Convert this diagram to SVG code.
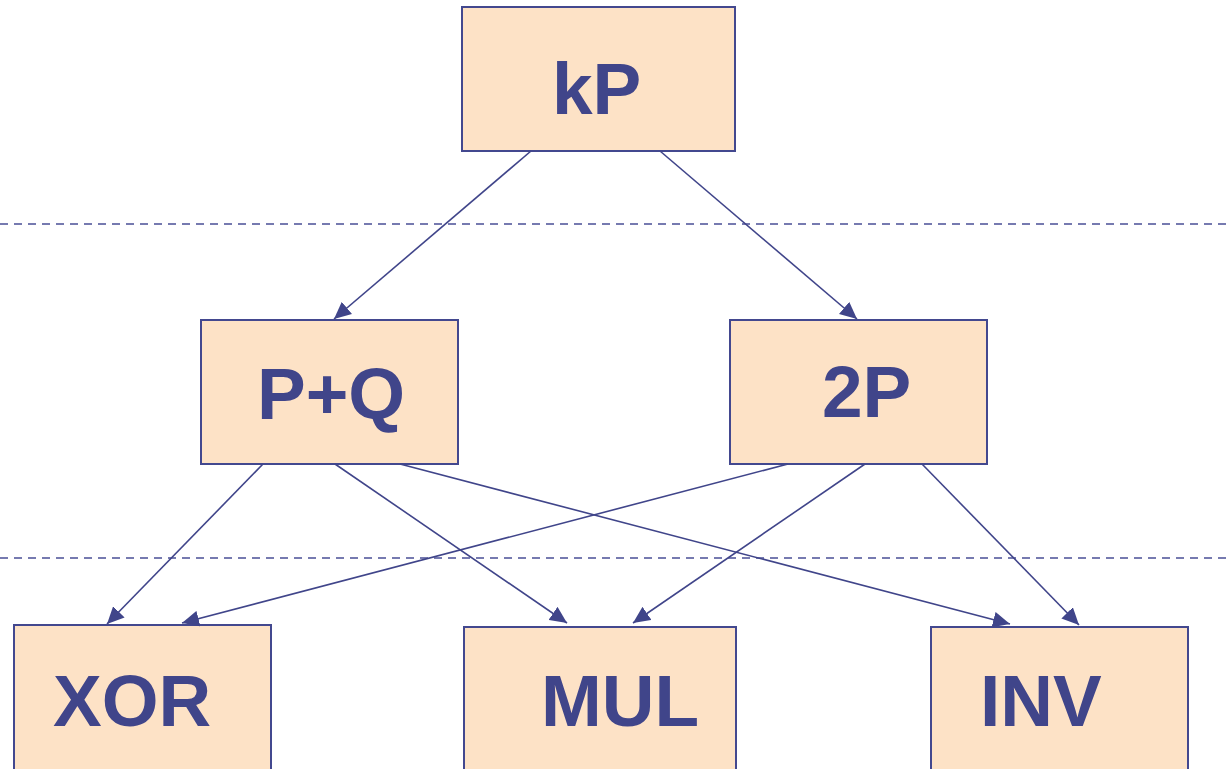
<svg xmlns="http://www.w3.org/2000/svg" width="1226" height="769" viewBox="0 0 1226 769">
  <style>
    .box { fill: #FDE2C6; stroke: #43488F; stroke-width: 2; }
    .lbl { font-family: "Liberation Sans", Arial, sans-serif; font-weight: bold; font-size: 73px; fill: #40458A; }
    .link { stroke: #40458A; stroke-width: 1.6; fill: none; marker-end: url(#head); }
    .level { stroke: #4A4F96; stroke-width: 1.6; stroke-dasharray: 8 6; fill: none; }
  </style>
  <defs>
    <marker id="head" markerUnits="userSpaceOnUse" markerWidth="18" markerHeight="16" refX="17" refY="8" orient="auto">
      <path d="M0,0 L17,8 L0,16 Z" fill="#40458A"/>
    </marker>
  </defs>

  <rect width="1226" height="769" fill="#FFFFFF"/>

  <!-- level separators -->
  <g id="levels">
    <line class="level" x1="0" y1="224" x2="1226" y2="224"/>
    <line class="level" x1="0" y1="558" x2="1226" y2="558"/>
  </g>

  <g id="node-kP">
    <rect class="box" x="462" y="7" width="273" height="144"/>
    <text class="lbl" x="552" y="114">kP</text>
  </g>
  <g id="node-PQ">
    <rect class="box" x="201" y="320" width="257" height="144"/>
    <text class="lbl" x="257" y="419">P+Q</text>
  </g>
  <g id="node-2P">
    <rect class="box" x="730" y="320" width="257" height="144"/>
    <text class="lbl" x="822" y="417">2P</text>
  </g>
  <g id="node-XOR">
    <rect class="box" x="14" y="625" width="257" height="160"/>
    <text class="lbl" x="53" y="726">XOR</text>
  </g>
  <g id="node-MUL">
    <rect class="box" x="464" y="627" width="272" height="160"/>
    <text class="lbl" x="541" y="726">MUL</text>
  </g>
  <g id="node-INV">
    <rect class="box" x="931" y="627" width="257" height="160"/>
    <text class="lbl" x="980" y="726">INV</text>
  </g>

  <g id="connectors">
    <line class="link" x1="531" y1="151" x2="334" y2="319"/>
    <line class="link" x1="660" y1="151" x2="857" y2="319"/>
    <line class="link" x1="263" y1="464" x2="107" y2="624"/>
    <line class="link" x1="335" y1="464" x2="567" y2="623"/>
    <line class="link" x1="400" y1="464" x2="1010" y2="624"/>
    <line class="link" x1="788" y1="464" x2="182" y2="623"/>
    <line class="link" x1="865" y1="464" x2="633" y2="623"/>
    <line class="link" x1="922" y1="464" x2="1079" y2="625"/>
  </g>
</svg>
